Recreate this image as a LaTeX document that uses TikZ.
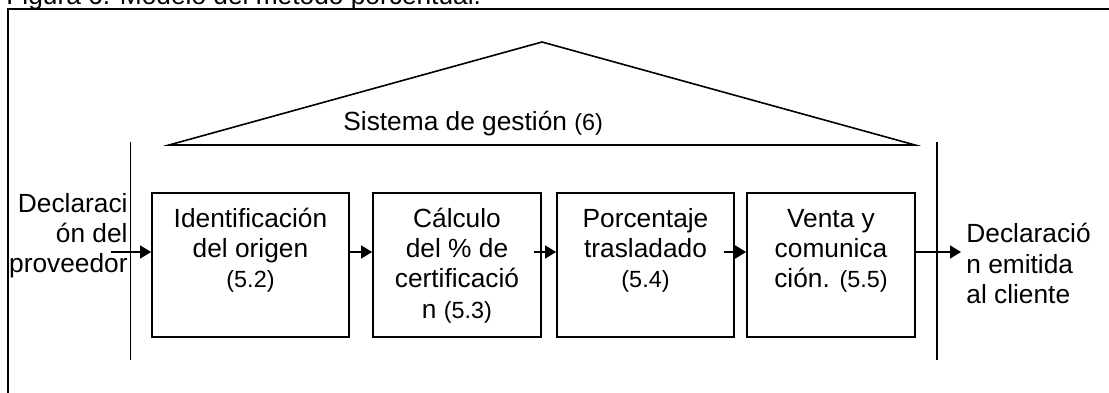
\documentclass[tikz,border=0pt]{standalone}
\usepackage{fontspec}
\setmainfont{Liberation Sans}
\usetikzlibrary{arrows.meta,calc}
\newcommand\bigf{\fontsize{13.15}{15.1}\selectfont}
\newcommand\numf[1]{{\fontsize{11.7}{15.1}\selectfont #1}}
\begin{document}
\begin{tikzpicture}[x=0.5pt,y=-0.5pt,
  box/.style={draw, line width=0.9pt, minimum height=72pt, inner sep=0pt},
  lbl/.style={anchor=north, inner sep=0pt, align=center, yshift=-6.93pt, font=\bigf},
  txt/.style={inner sep=0pt, font=\bigf},
  conn/.style={line width=0.8pt, -{Triangle[length=5.5pt,width=6.5pt]}},
  thinline/.style={line width=0.8pt},
  frame/.style={line width=1.3pt}]
\useasboundingbox (0,0) rectangle (1109,392);
\node[txt, anchor=base west] (title) at (6,4.5) {Figura 6. Modelo del método porcentual.};
\draw[frame] (8,9) rectangle (1200,500);
\draw[thinline, line join=miter] (169,145) -- (542,42) -- (915,145) -- cycle;
\node[txt, anchor=base west] (sg) at (343,130) {Sistema de gestión \numf{(6)}};
\draw[thinline] (130.5,142) -- (130.5,360);
\draw[thinline] (937,142) -- (937,360);
\node[box, minimum width=98.5pt, label={[lbl]north:{\strut Identificación\\del origen\\\numf{(5.2)}}}] (b1) at (250.5,265) {};
\node[box, minimum width=84pt, label={[lbl]north:{\strut Cálculo\\del \% de\\certificació\\n \numf{(5.3)}}}] (b2) at (457,265) {};
\node[box, minimum width=88.5pt, label={[lbl]north:{\strut Porcentaje\\trasladado\\\numf{(5.4)}}}] (b3) at (645.5,265) {};
\node[box, minimum width=84pt, label={[lbl]north:{\strut Venta y\\comunica\\ción. \numf{(5.5)}}}] (b4) at (831,265) {};
\node[txt, anchor=north east, align=right] (src) at (128,191) {\strut Declaraci\\ón del\\proveedor};
\node[txt, anchor=north west, align=left] (dst) at (966,221.4) {\strut Declaració\\n emitida\\al cliente};
\coordinate (in) at (111,252);
\coordinate (out) at (961,252);
\draw[conn] (in) -- (in -| b1.west);
\draw[conn] (b1.east |- in) -- (b2.west |- in);
\draw[conn] ($(b2.east |- in)+(-8,0)$) -- (b3.west |- in);
\draw[conn] ($(b3.east |- in)+(-11,0)$) -- (b4.west |- in);
\draw[conn] (b4.east |- in) -- (out);
\end{tikzpicture}
\end{document}
